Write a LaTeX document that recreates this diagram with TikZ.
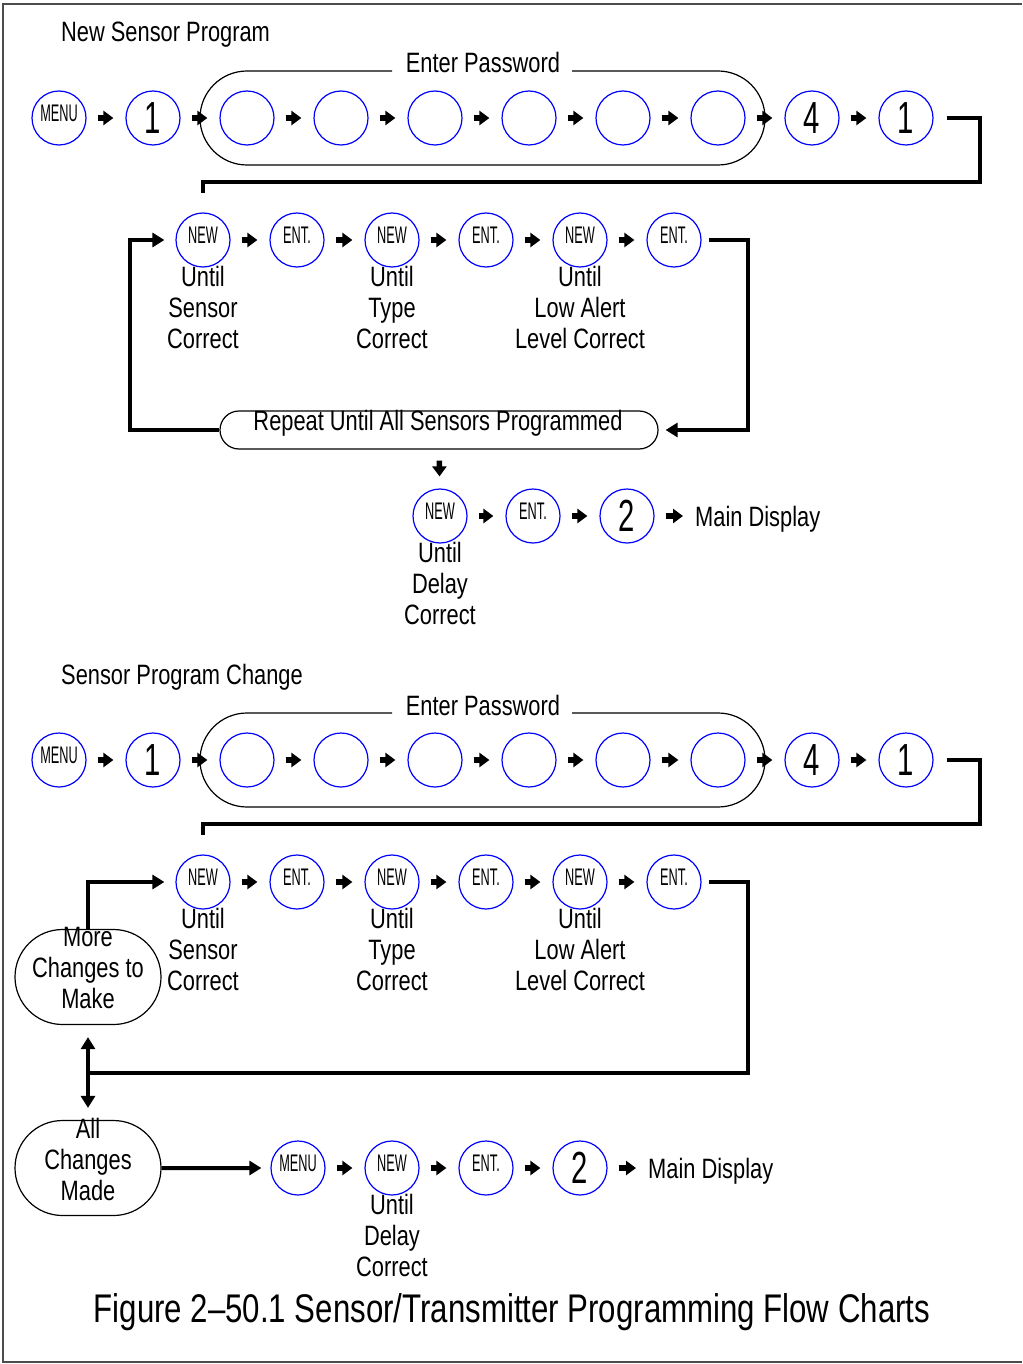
\documentclass[tikz,border=0pt]{standalone}
\usepackage{fontspec}
\setmainfont{Liberation Sans}[FakeStretch=0.78]
\newfontfamily\keyfont{Liberation Sans}[FakeStretch=0.53]
\newfontfamily\digitfont{Liberation Sans}[FakeStretch=0.65]
\usetikzlibrary{arrows.meta,positioning,shapes.misc}

\tikzset{
  key/.style={circle, draw=blue, line width=1.2pt, minimum size=54pt, inner sep=0pt,
    font=\keyfont\fontsize{24}{24}\selectfont},
  digitkey/.style={key, font=\digitfont\fontsize{45}{45}\selectfont},
  note/.style={inner sep=0pt, align=center, font=\fontsize{28}{31}\selectfont},
  steparrow/.style={line width=5.5pt, -{Triangle[length=10pt,width=14pt]},
    shorten <=11pt, shorten >=12pt},
  flow/.style={line width=4pt},
  flowarrow/.style={line width=4pt, -{Triangle[length=12pt,width=14pt]}},
  roundbox/.style={rounded rectangle, draw, line width=1.2pt, inner sep=0pt},
  thinline/.style={line width=1.2pt},
  frame/.style={line width=1.5pt, draw=black!70},
}
\newcommand{\keylab}[1]{\raisebox{9pt}{#1}}

\begin{document}
\begin{tikzpicture}[x=1pt, y=-1pt]
\useasboundingbox (0,0) rectangle (1022,1364);

% Frame
\draw[frame] (1022,4) -- (3,4) -- (3,1362) -- (1022,1362);%

% ---------------- New Sensor Program ----------------
\node[note, anchor=base west] (titleA) at (61,42) {New Sensor Program};%

% First row of keys
\node[key] (menuA) at (59,118) {\keylab{MENU}};%
\node[digitkey] (oneA) at (153,118) {1};%
\node[key] (passA1) at (247,118) {};%
\node[key] (passA2) at (341,118) {};%
\node[key] (passA3) at (435,118) {};%
\node[key] (passA4) at (529,118) {};%
\node[key] (passA5) at (623,118) {};%
\node[key] (passA6) at (718,118) {};%
\node[digitkey] (fourA) at (812,118) {4};%
\node[digitkey] (lastA) at (906,118) {1};%

% Password frame
\node[note, anchor=base] (passwordA) at (483,73) {Enter Password};%
\draw[thinline] (392,71) -- (247,71) arc (270:90:47) -- (718,165) arc (90:-90:47) -- (572,71);%

\draw[steparrow] (menuA) -- (oneA);%
\draw[steparrow] (oneA) -- (passA1);%
\draw[steparrow] (passA1) -- (passA2);%
\draw[steparrow] (passA2) -- (passA3);%
\draw[steparrow] (passA3) -- (passA4);%
\draw[steparrow] (passA4) -- (passA5);%
\draw[steparrow] (passA5) -- (passA6);%
\draw[steparrow] (passA6) -- (fourA);%
\draw[steparrow] (fourA) -- (lastA);%

% Line down to second row
\coordinate (turnA) at (980,182);
\coordinate (stubA) at (203,193);
\draw[flow] ([xshift=13pt]lastA.east) -| (turnA) -| (stubA);%

% Second row of keys
\node[key] (newA1) at (203,240) {\keylab{NEW}};%
\node[key] (entA1) at (297,240) {\keylab{ENT.}};%
\node[key] (newA2) at (392,240) {\keylab{NEW}};%
\node[key] (entA2) at (486,240) {\keylab{ENT.}};%
\node[key] (newA3) at (580,240) {\keylab{NEW}};%
\node[key] (entA3) at (674,240) {\keylab{ENT.}};%

\node[note, below=-2pt of newA1] (untilA1) {Until\\Sensor\\Correct};%
\node[note, below=-2pt of newA2] (untilA2) {Until\\Type\\Correct};%
\node[note, below=-2pt of newA3] (untilA3) {Until\\Low Alert\\Level Correct};%

\draw[steparrow] (newA1) -- (entA1);%
\draw[steparrow] (entA1) -- (newA2);%
\draw[steparrow] (newA2) -- (entA2);%
\draw[steparrow] (entA2) -- (newA3);%
\draw[steparrow] (newA3) -- (entA3);%

% Repeat loop
\node[roundbox, minimum width=438pt, minimum height=38pt] (repeatA) at (439,430) {};%
\node[note, anchor=base] (repeatAtext) at (438,430) {Repeat Until All Sensors Programmed};%
\coordinate (loopRA) at (748,430);
\coordinate (loopLA) at (130,240);
\draw[flowarrow, shorten >=7pt] ([xshift=7pt]entA3.east) -| (loopRA) -- (repeatA.east);%
\draw[flowarrow, shorten >=11pt] (repeatA.west) -| (loopLA) -- (newA1);%

% Third row of keys
\node[key] (newA4) at (440,516) {\keylab{NEW}};%
\node[key] (entA4) at (533,516) {\keylab{ENT.}};%
\node[digitkey] (twoA) at (627,516) {2};%
\node[note, anchor=base west] (mainA) at (695,526) {Main Display};%
\node[note, below=-2pt of newA4] (untilA4) {Until\\Delay\\Correct};%

\draw[steparrow] (repeatA) -- (newA4);%
\draw[steparrow] (newA4) -- (entA4);%
\draw[steparrow] (entA4) -- (twoA);%
\draw[steparrow] (twoA) -- (mainA.west |- twoA);%

% ---------------- Sensor Program Change ----------------
\node[note, anchor=base west] (titleB) at (61,684) {Sensor Program Change};%

% First row of keys
\node[key] (menuB) at (59,760) {\keylab{MENU}};%
\node[digitkey] (oneB) at (153,760) {1};%
\node[key] (passB1) at (247,760) {};%
\node[key] (passB2) at (341,760) {};%
\node[key] (passB3) at (435,760) {};%
\node[key] (passB4) at (529,760) {};%
\node[key] (passB5) at (623,760) {};%
\node[key] (passB6) at (718,760) {};%
\node[digitkey] (fourB) at (812,760) {4};%
\node[digitkey] (lastB) at (906,760) {1};%

% Password frame
\node[note, anchor=base] (passwordB) at (483,715) {Enter Password};%
\draw[thinline] (392,713) -- (247,713) arc (270:90:47) -- (718,807) arc (90:-90:47) -- (572,713);%

\draw[steparrow] (menuB) -- (oneB);%
\draw[steparrow] (oneB) -- (passB1);%
\draw[steparrow] (passB1) -- (passB2);%
\draw[steparrow] (passB2) -- (passB3);%
\draw[steparrow] (passB3) -- (passB4);%
\draw[steparrow] (passB4) -- (passB5);%
\draw[steparrow] (passB5) -- (passB6);%
\draw[steparrow] (passB6) -- (fourB);%
\draw[steparrow] (fourB) -- (lastB);%

% Line down to second row
\coordinate (turnB) at (980,824);
\coordinate (stubB) at (203,835);
\draw[flow] ([xshift=13pt]lastB.east) -| (turnB) -| (stubB);%

% Second row of keys
\node[key] (newB1) at (203,882) {\keylab{NEW}};%
\node[key] (entB1) at (297,882) {\keylab{ENT.}};%
\node[key] (newB2) at (392,882) {\keylab{NEW}};%
\node[key] (entB2) at (486,882) {\keylab{ENT.}};%
\node[key] (newB3) at (580,882) {\keylab{NEW}};%
\node[key] (entB3) at (674,882) {\keylab{ENT.}};%

\node[note, below=-2pt of newB1] (untilB1) {Until\\Sensor\\Correct};%
\node[note, below=-2pt of newB2] (untilB2) {Until\\Type\\Correct};%
\node[note, below=-2pt of newB3] (untilB3) {Until\\Low Alert\\Level Correct};%

\draw[steparrow] (newB1) -- (entB1);%
\draw[steparrow] (entB1) -- (newB2);%
\draw[steparrow] (newB2) -- (entB2);%
\draw[steparrow] (entB2) -- (newB3);%
\draw[steparrow] (newB3) -- (entB3);%

% Decision boxes
\node[roundbox, minimum width=146pt, minimum height=95pt] (moreB) at (88,977) {};%
\node[note, anchor=north] (moreBtext) at (88,927) {More\\Changes to\\Make};%
\node[roundbox, minimum width=146pt, minimum height=95pt] (allB) at (88,1168) {};%
\node[note, anchor=north] (allBtext) at (88,1118) {All\\Changes\\Made};%

\coordinate (loopRB) at (748,1073);
\coordinate (loopLB) at (88,1073);
\draw[flow] ([xshift=7pt]entB3.east) -| (loopRB) -- (loopLB);%
\draw[flowarrow, shorten >=11pt] (moreB.north) |- (newB1);%
\draw[line width=4pt, {Triangle[length=12pt,width=14pt]}-{Triangle[length=12pt,width=14pt]},
  shorten <=12pt, shorten >=12pt] (moreB) -- (allB);%

% Last row of keys
\node[key] (menuC) at (298,1168) {\keylab{MENU}};%
\node[key] (newC) at (392,1168) {\keylab{NEW}};%
\node[key] (entC) at (486,1168) {\keylab{ENT.}};%
\node[digitkey] (twoB) at (580,1168) {2};%
\node[note, anchor=base west] (mainB) at (648,1178) {Main Display};%
\node[note, below=-2pt of newC] (untilC) {Until\\Delay\\Correct};%

\draw[flowarrow, shorten >=9pt] (allB) -- (menuC);%
\draw[steparrow] (menuC) -- (newC);%
\draw[steparrow] (newC) -- (entC);%
\draw[steparrow] (entC) -- (twoB);%
\draw[steparrow] (twoB) -- (mainB.west |- twoB);%

% Caption
\node[inner sep=0pt, anchor=base, font=\fontsize{40}{40}\selectfont] (caption) at (512,1322)
  {Figure 2--50.1 Sensor/Transmitter Programming Flow Charts};%
\end{tikzpicture}
\end{document}
